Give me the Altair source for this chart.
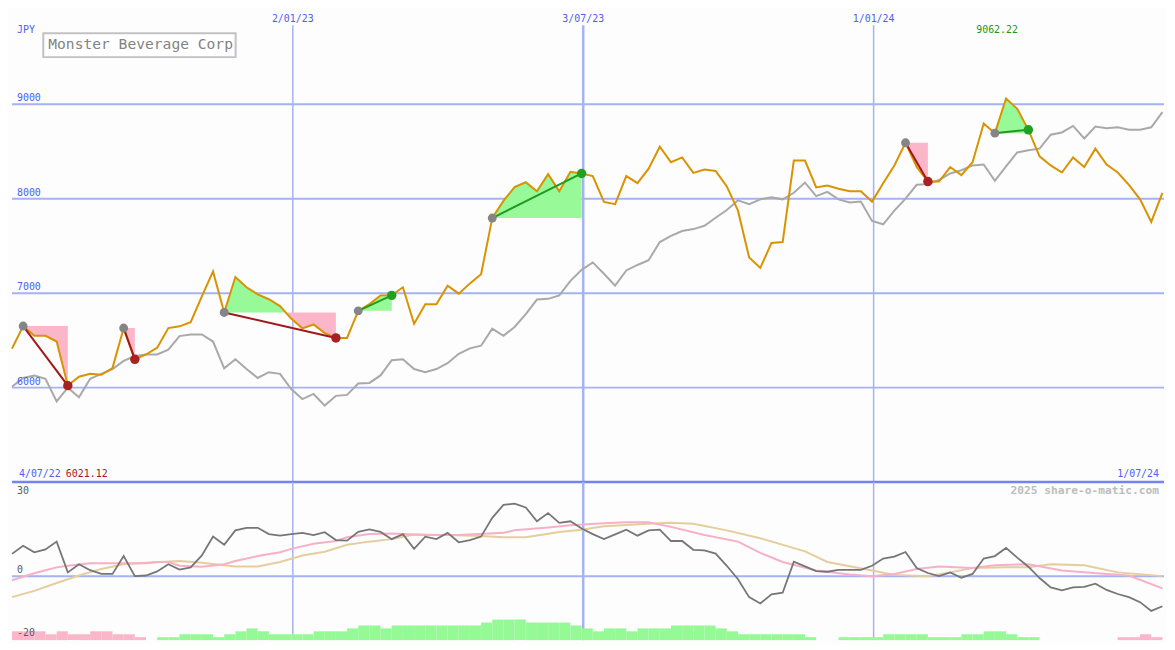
import altair as alt
import pandas as pd

W, H1, H2 = 1159, 475, 159
MONO = "DejaVu Sans Mono"
BLUE = "#4f5ff2"
GRID = "#a5b2f4"
BG = "#fcfdfc"

# ---------------- data ----------------
start_date = "2022-07-10"
n_weeks = 104
week_dates = pd.date_range(start_date, periods=n_weeks, freq="7D")

price = [6413, 6652, 6549, 6549, 6488, 6021.12, 6115, 6146, 6136, 6207,
         6631, 6300, 6351, 6423, 6631, 6649, 6693, 6967, 7231, 6796,
         7172, 7063, 6988, 6936, 6864, 6731, 6628, 6669, 6577, 6526,
         6526, 6813, 6885, 6977, 6977, 7063, 6677, 6882, 6882, 7080,
         6995, 7104, 7200, 7796, 7977, 8124, 8175, 8079, 8261, 8079,
         8285, 8268, 8240, 7966, 7943, 8240, 8165, 8319, 8551, 8387,
         8438, 8274, 8309, 8295, 8131, 7874, 7378, 7268, 7532, 7542,
         8405, 8405, 8120, 8141, 8107, 8079, 8079, 7970, 8165, 8353,
         8593, 8336, 8182, 8182, 8336, 8251, 8387, 8798, 8695, 9062.22,
         8952, 8730, 8449, 8353, 8278, 8438, 8336, 8531, 8363, 8278,
         8148, 7994, 7755, 8063]

compare = [6009, 6102, 6129, 6094, 5855, 5999, 5899, 6094, 6146, 6197,
           6283, 6334, 6351, 6351, 6402, 6546, 6563, 6563, 6488, 6204,
           6300, 6197, 6102, 6163, 6146, 5985, 5879, 5933, 5810, 5913,
           5923, 6043, 6050, 6129, 6290, 6300, 6197, 6163, 6197, 6259,
           6358, 6416, 6444, 6625, 6549, 6642, 6779, 6933, 6940, 6977,
           7131, 7247, 7326, 7206, 7080, 7241, 7299, 7350, 7542, 7607,
           7658, 7679, 7714, 7799, 7881, 7984, 7943, 7994, 8017, 7994,
           8063, 8171, 8028, 8073, 7994, 7960, 7970, 7765, 7730, 7874,
           8001, 8148, 8155, 8199, 8268, 8302, 8353, 8363, 8189, 8343,
           8490, 8514, 8531, 8679, 8702, 8771, 8638, 8764, 8746, 8757,
           8730, 8730, 8757, 8918]

momentum = [7.1, 9.7, 7.6, 8.5, 11.0, 1.2, 3.8, 1.9, 0.7, 0.7,
            6.4, 0.0, 0.2, 1.5, 3.8, 2.1, 2.8, 6.6, 12.6, 10.0,
            14.6, 15.4, 15.4, 13.4, 12.9, 13.4, 13.8, 13.1, 14.0, 11.5,
            11.3, 14.1, 14.9, 14.1, 11.8, 13.4, 8.7, 12.6, 11.8, 13.8,
            10.8, 11.5, 12.6, 18.6, 22.7, 23.1, 21.9, 17.5, 20.1, 17.0,
            17.5, 15.2, 13.4, 11.8, 13.3, 14.8, 12.9, 14.6, 14.8, 11.2,
            11.2, 8.4, 8.2, 7.2, 3.3, -1.0, -6.7, -8.7, -5.8, -5.3,
            4.6, 3.1, 1.6, 1.4, 2.0, 2.0, 2.0, 3.3, 5.6, 6.2,
            7.7, 2.6, 1.0, 0.0, 1.2, -0.5, 0.7, 5.6, 6.4, 9.0,
            5.9, 3.0, -0.6, -3.6, -4.5, -3.6, -3.4, -2.4, -4.4, -5.7,
            -6.7, -8.3, -11.1, -9.6]

pink_idx = [0, 2, 3, 4, 5, 7, 12, 13, 14, 15, 17, 19, 20, 22, 24, 25, 27, 29, 30, 32,
            34, 37, 40, 44, 45, 48, 50, 53, 55, 57, 59, 62, 65, 67, 69, 72, 75, 77, 79, 81,
            83, 86, 88, 91, 94, 98, 100, 103]
pink_val = [-1.3, 0.9, 1.9, 2.8, 3.3, 4.1, 4.1, 4.5, 4.5, 3.3, 3.0, 3.8, 4.8, 6.4, 7.6, 8.7, 10.3, 11.2, 12.4, 13.4,
            13.6, 13.1, 13.1, 13.8, 14.6, 15.5, 16.2, 16.9, 17.2, 17.2, 15.7, 13.1, 11.0, 7.4, 4.5, 1.8, 0.5, 0.0, 0.7, 2.3,
            3.1, 2.6, 3.5, 3.8, 1.8, 0.7, 0.2, -3.9]

tan_idx = [0, 2, 4, 6, 8, 10, 12, 15, 17, 20, 22, 24, 26, 28, 30, 32, 34, 36, 39, 42,
           44, 46, 49, 51, 53, 57, 59, 61, 64, 67, 71, 73, 77, 79, 82, 84, 86, 89, 91, 93,
           96, 99, 103]
tan_val = [-6.7, -4.7, -2.2, 0.2, 2.3, 3.8, 4.3, 4.8, 4.3, 3.1, 3.1, 4.5, 6.6, 7.8, 10.0, 11.0, 11.8, 13.3, 13.1, 12.8,
           12.4, 12.4, 14.1, 14.8, 15.9, 16.7, 17.0, 16.7, 14.6, 12.1, 7.9, 4.5, 1.8, 0.4, 0.0, 1.2, 2.6, 2.8, 2.8, 3.8,
           3.5, 1.2, 0.0]

hist = [-3, -3, -3, -2, -3, -2, -2, -3, -3, -2, -2, -1, 0,
        1, 1, 2, 2, 2, 1, 2, 3,
        4, 3, 2, 2, 2, 2, 3, 3, 3,
        4, 5, 5, 4,
        5, 5, 5, 5, 5, 5, 5, 5,
        6, 7, 7, 7, 6, 6, 6, 6,
        5, 4, 3, 4, 4, 3, 4, 4, 4,
        5, 5, 5, 5,
        4, 3, 2, 2, 2, 2, 2, 2,
        1, 0, 0, 1, 1, 1, 1,
        2, 2, 2, 2,
        1, 1, 1, 2, 2, 3, 3, 2, 1, 1,
        0, 0, 0, 0, 0, 0, 0,
        -1, -1, -2, -1, 0]

# swing annotations: (start week index, end week index)
swings = [(1, 5), (10, 11), (19, 29), (31, 34), (43, 51), (80, 82), (88, 91)]

grid_dates = ["2023-01-02", "2023-07-03", "2024-01-01"]
grid_labels = ["2/01/23", "3/07/23", "1/01/24"]
grid_major = [False, True, False]
price_ticks = [6000, 7000, 8000, 9000]
osc_ticks_top = [30]
osc_ticks = [0, -20]
range_left, range_right = "4/07/22", "1/07/24"
title_text = "Monster Beverage Corp"
currency = "JPY"
credit = "2025 share-o-matic.com"


def iso(t):
    return pd.Timestamp(t).strftime("%Y-%m-%dT%H:%M:%SZ")


T = [iso(d) for d in week_dates]

xscale = alt.Scale(type="utc", nice=False,
                   domain=[alt.DateTime(year=2022, month=7, date=10, utc=True),
                           alt.DateTime(year=2024, month=7, date=1, utc=True)])
pscale = alt.Scale(domain=[5000, 10000], nice=False, zero=False)
oscale = alt.Scale(domain=[-20.4, 30], nice=False, zero=False)


def X(f):
    return alt.X(f"{f}:T", scale=xscale, axis=None)


def PY(f):
    return alt.Y(f"{f}:Q", scale=pscale, axis=None)


def OY(f):
    return alt.Y(f"{f}:Q", scale=oscale, axis=None)


series = pd.DataFrame({"t": T, "price": price, "compare": compare, "mom": momentum})
grid = pd.DataFrame({"t": [iso(d) for d in grid_dates], "label": grid_labels, "major": grid_major})

# swing fills split where the price crosses the starting level
rows = []
g = 0
sw_rows = []
for s, e in swings:
    base = price[s]
    pts = [(week_dates[s], price[s])]
    for i in range(s, e):
        a, b = price[i] - base, price[i + 1] - base
        if a * b < 0:
            f = a / (a - b)
            pts.append((week_dates[i] + (week_dates[i + 1] - week_dates[i]) * f, base))
        pts.append((week_dates[i + 1], price[i + 1]))
    runs, cur = [], [pts[0]]
    for t, p in pts[1:]:
        cur.append((t, p))
        if p == base:
            runs.append(cur)
            cur = [(t, p)]
    if len(cur) > 1:
        runs.append(cur)
    for run in runs:
        mids = [p for t, p in run if p != base]
        if not mids:
            continue
        g += 1
        d = "up" if mids[0] > base else "down"
        for t, p in run:
            rows.append({"t": iso(t), "p": p, "base": base, "grp": g, "dir": d})
    sw_rows.append({"t0": T[s], "p0": price[s], "t1": T[e], "p1": price[e],
                    "dir": "up" if price[e] > price[s] else "down"})
fills = pd.DataFrame(rows)
sw = pd.DataFrame(sw_rows)

imin = min(range(n_weeks), key=lambda i: price[i])
imax = max(range(n_weeks), key=lambda i: price[i])
ext_min = pd.DataFrame({"t": [T[imin]], "txt": [f"{price[imin]:.2f}"]})
ext_max = pd.DataFrame({"t": [T[imax]], "txt": [f"{price[imax]:.2f}"]})

one = pd.DataFrame({"k": [0]})

# ---------------- main panel ----------------
hgrid = alt.Chart(pd.DataFrame({"v": price_ticks})).mark_rule(color=GRID, strokeWidth=2).encode(y=PY("v"))
floor = alt.Chart(pd.DataFrame({"v": [5000]})).mark_rule(color="#7484ee", strokeWidth=2.5).encode(y=PY("v"))
vgrid_minor = alt.Chart(grid[~grid["major"]]).mark_rule(color=GRID, strokeWidth=1.5).encode(
    x=X("t"), y=alt.value(15.5), y2=alt.value(H1))
vgrid_major = alt.Chart(grid[grid["major"]]).mark_rule(color=GRID, strokeWidth=2.5).encode(
    x=X("t"), y=alt.value(15.5), y2=alt.value(H1))
date_labels = alt.Chart(grid).mark_text(font=MONO, fontSize=10, color=BLUE, baseline="middle").encode(
    x=X("t"), y=alt.value(9.5), text="label:N")
ylabels = alt.Chart(pd.DataFrame({"v": price_ticks, "lbl": [str(v) for v in price_ticks]})).mark_text(
    font=MONO, fontSize=10, color=BLUE, align="left", baseline="alphabetic", dy=-3).encode(
    x=alt.value(5), y=PY("v"), text="lbl:N")

comp_line = alt.Chart(series).mark_line(color="#a9a9a9", strokeWidth=2).encode(x=X("t"), y=PY("compare"))
fill_area = alt.Chart(fills).mark_area(opacity=1).encode(
    x=X("t"), y=PY("p"), y2="base:Q", detail="grp:N",
    color=alt.Color("dir:N", scale=alt.Scale(domain=["up", "down"], range=["#97f997", "#fbb6c9"]), legend=None))
price_line = alt.Chart(series).mark_line(color="#da9300", strokeWidth=2).encode(x=X("t"), y=PY("price"))
sw_rule = alt.Chart(sw).mark_rule(strokeWidth=2).encode(
    x=X("t0"), y=PY("p0"), x2="t1:T", y2="p1:Q",
    color=alt.Color("dir:N", scale=alt.Scale(domain=["up", "down"], range=["#1f9b1f", "#a01818"]), legend=None))
start_pts = alt.Chart(sw).mark_circle(size=80, opacity=1, color="#858585").encode(x=X("t0"), y=PY("p0"))
end_pts = alt.Chart(sw).mark_circle(size=90, opacity=1).encode(
    x=X("t1"), y=PY("p1"),
    color=alt.Color("dir:N", scale=alt.Scale(domain=["up", "down"], range=["#22a022", "#a82222"]), legend=None))

jpy = alt.Chart(one).mark_text(font=MONO, fontSize=10, color=BLUE, align="left", baseline="middle").encode(
    x=alt.value(5), y=alt.value(20.5), text=alt.value(currency))
title_box = alt.Chart(one).mark_rect(fill="white", stroke="#c2c2c2", strokeWidth=2).encode(
    x=alt.value(31.5), x2=alt.value(225), y=alt.value(23.5), y2=alt.value(47.5))
title = alt.Chart(one).mark_text(font=MONO, fontSize=14.7, color="#838383", align="left", baseline="middle").encode(
    x=alt.value(36.5), y=alt.value(35.8), text=alt.value(title_text))
max_lbl = alt.Chart(ext_max).mark_text(font=MONO, fontSize=10, color="#1c961c", baseline="middle", dx=-9).encode(
    x=X("t"), y=alt.value(20.5), text="txt:N")
min_lbl = alt.Chart(ext_min).mark_text(font=MONO, fontSize=10, color="#a01a1a", align="left", baseline="middle", dx=-2).encode(
    x=X("t"), y=alt.value(467), text="txt:N")
left_lbl = alt.Chart(one).mark_text(font=MONO, fontSize=10, color=BLUE, align="left", baseline="middle").encode(
    x=alt.value(7), y=alt.value(467), text=alt.value(range_left))
right_lbl = alt.Chart(one).mark_text(font=MONO, fontSize=10, color=BLUE, align="right", baseline="middle").encode(
    x=alt.value(1154), y=alt.value(467), text=alt.value(range_right))

main = alt.layer(
    hgrid, vgrid_minor, vgrid_major, floor, comp_line, fill_area, price_line, sw_rule, start_pts, end_pts,
    date_labels, ylabels, jpy, title_box, title, max_lbl, min_lbl, left_lbl, right_lbl
).resolve_scale(color="independent").properties(width=W, height=H1)

# ---------------- lower panel ----------------
bars = pd.DataFrame({"t0": T, "t1": [iso(d + pd.Timedelta(days=7)) for d in week_dates],
                     "h": [abs(v) for v in hist], "neg": [v < 0 for v in hist]})
bars = bars[bars["h"] > 0]
hscale = alt.Scale(domain=[0, 54], nice=False, zero=True)
bars_pos = alt.Chart(bars[~bars["neg"]]).mark_rect(color="#95f995").encode(
    x=X("t0"), x2="t1:T", y=alt.Y("h:Q", scale=hscale, axis=None), y2=alt.datum(0))
bars_neg = alt.Chart(bars[bars["neg"]]).mark_rect(color="#fbb6c9").encode(
    x=X("t0"), x2="t1:T", y=alt.Y("h:Q", scale=hscale, axis=None), y2=alt.datum(0))

pink_df = pd.DataFrame({"t": [T[i] for i in pink_idx], "v": pink_val})
tan_df = pd.DataFrame({"t": [T[i] for i in tan_idx], "v": tan_val})

lo_vgrid_minor = alt.Chart(grid[~grid["major"]]).mark_rule(color=GRID, strokeWidth=1.5).encode(x=X("t"))
lo_vgrid_major = alt.Chart(grid[grid["major"]]).mark_rule(color=GRID, strokeWidth=2.5).encode(x=X("t"))
zero_line = alt.Chart(pd.DataFrame({"v": [0]})).mark_rule(color=GRID, strokeWidth=2).encode(y=OY("v"))
tan_line = alt.Chart(tan_df).mark_line(color="#e6cd9e", strokeWidth=2).encode(x=X("t"), y=OY("v"))
pink_line = alt.Chart(pink_df).mark_line(color="#f7b0c6", strokeWidth=2).encode(x=X("t"), y=OY("v"))
mom_line = alt.Chart(series).mark_line(color="#767676", strokeWidth=1.8).encode(x=X("t"), y=OY("mom"))
top_tick = alt.Chart(pd.DataFrame({"v": osc_ticks_top, "lbl": [str(v) for v in osc_ticks_top]})).mark_text(
    font=MONO, fontSize=10, color="#5e5e5e", align="left", baseline="middle", dy=9).encode(
    x=alt.value(5), y=OY("v"), text="lbl:N")
other_ticks = alt.Chart(pd.DataFrame({"v": osc_ticks, "lbl": [str(v) for v in osc_ticks]})).mark_text(
    font=MONO, fontSize=10, color="#5e5e5e", align="left", baseline="middle", dy=-6).encode(
    x=alt.value(5), y=OY("v"), text="lbl:N")
credit_txt = alt.Chart(one).mark_text(font=MONO, fontSize=11.3, fontWeight="bold", color="#bdbdbd",
                                      align="right", baseline="middle").encode(
    x=alt.value(1154), y=alt.value(9), text=alt.value(credit))

lower = alt.layer(
    lo_vgrid_minor, lo_vgrid_major, zero_line, bars_pos, bars_neg, tan_line, pink_line, mom_line,
    top_tick, other_ticks, credit_txt
).resolve_scale(y="independent").properties(width=W, height=H2)

chart = alt.vconcat(main, lower, spacing=0, bounds="flush", padding=0, background=BG).configure_view(strokeWidth=0)

chart.save("out.html", embed_options={"renderer": "svg", "actions": False})
